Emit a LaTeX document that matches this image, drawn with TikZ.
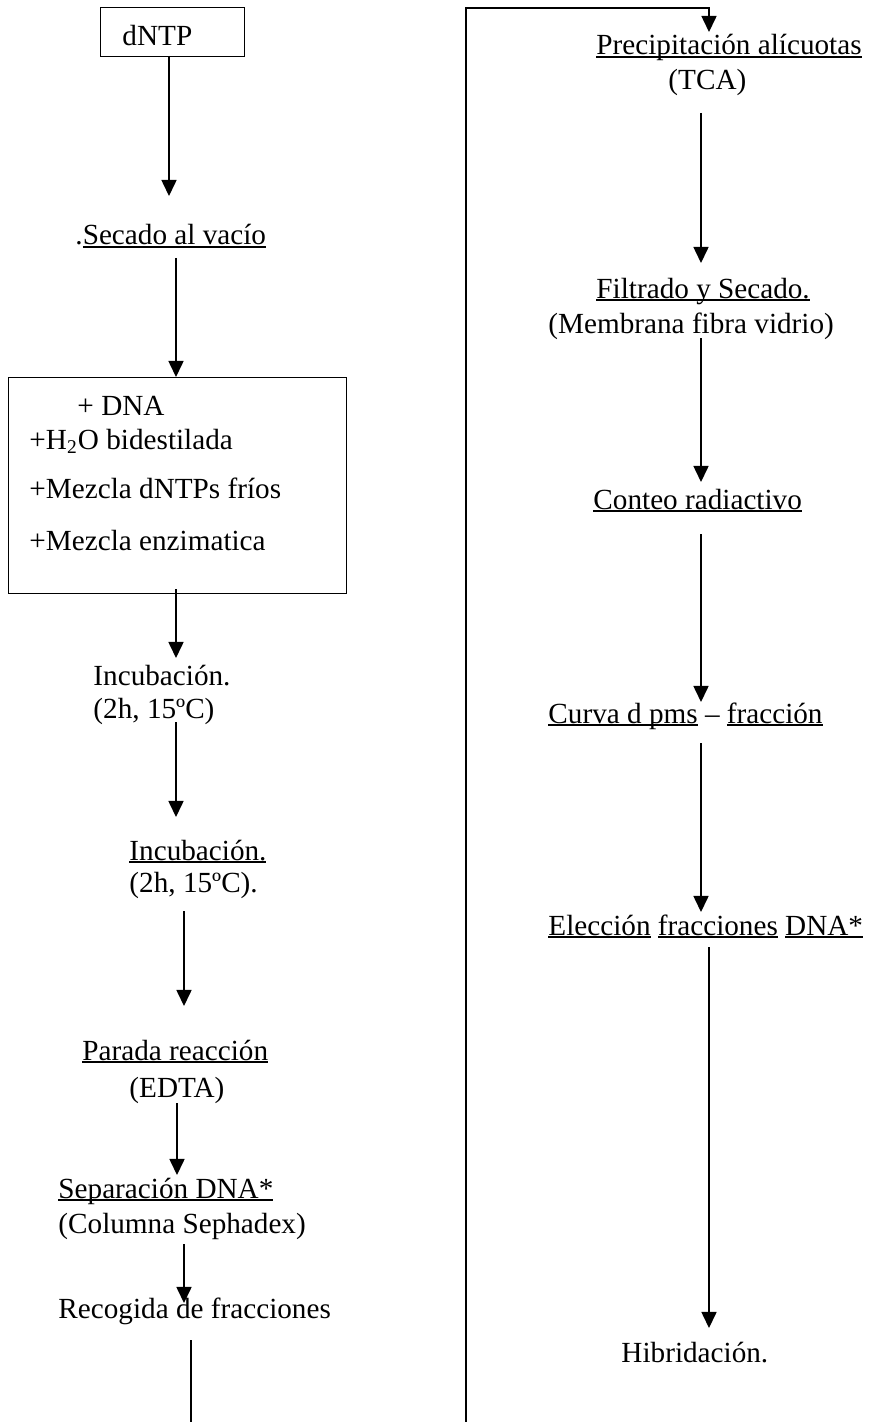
\documentclass[tikz,border=0pt]{standalone}
\usepackage{fontspec}
\setmainfont{Liberation Serif}
\usetikzlibrary{arrows.meta}
\newdimen\px \px=0.411pt
\newcommand{\ulw}[1]{\setbox0=\hbox{#1}\rlap{\rule[-1.1pt]{\wd0}{0.55pt}}\box0\relax}
\begin{document}
\begin{tikzpicture}[x=0.411pt,y=-0.411pt,
  txt/.style={inner sep=0pt, anchor=base west, font=\fontsize{12pt}{14pt}\selectfont},
  boxn/.style={draw, line width=0.6pt, inner sep=0pt, anchor=north west},
  conn/.style={line width=0.6pt},
  arr/.style={line width=0.6pt, -{Triangle[length=6.6pt,width=6.2pt]}}]
\useasboundingbox (0,0) rectangle (868,1422);
% ---------- left column ----------
\node[boxn, minimum width=144\px, minimum height=49\px] (dntp) at (100,7) {};
\node[txt] (dntpt) at (122,46) {dNTP};
\node[txt] (secado) at (75,245) {.\ulw{Secado al vacío}};
\node[boxn, minimum width=338\px, minimum height=216\px] (mix) at (8,377) {};
\node[txt] (m1) at (77,415) {+ DNA};
\node[txt] (m2) at (29,449) {+H\textsubscript{2}O bidestilada};
\node[txt] (m3) at (29,498) {+Mezcla dNTPs fríos};
\node[txt] (m4) at (29,550) {+Mezcla enzimatica};
\node[txt] (inc1) at (93,685) {Incubación.};
\node[txt] (inc1b) at (93,718) {(2h, 15ºC)};
\node[txt] (inc2) at (129,860) {\ulw{Incubación.}};
\node[txt] (inc2b) at (129,892) {(2h, 15ºC).};
\node[txt] (par) at (82,1060) {\ulw{Parada reacción}};
\node[txt] (parb) at (129,1097) {(EDTA)};
\node[txt] (sep) at (58,1198) {\ulw{Separación DNA*}};
\node[txt] (sepb) at (58,1233) {(Columna Sephadex)};
\node[txt] (rec) at (58,1318) {Recogida de fracciones};
% ---------- right column ----------
\node[txt] (prec) at (596,55) {\ulw{Precipitación alícuotas}};
\node[txt] (precb) at (668,90) {(TCA)};
\node[txt] (fil) at (596,298) {\ulw{Filtrado y Secado.}};
\node[txt] (filb) at (548,333) {(Membrana fibra vidrio)};
\node[txt] (con) at (593,509) {\ulw{Conteo radiactivo}};
\node[txt] (cur) at (548,723) {\ulw{Curva d pms} -- \ulw{fracción}};
\node[txt] (ele) at (548,935) {\ulw{Elección} \ulw{fracciones} \ulw{DNA*}};
\node[txt] (hib) at (621,1362) {Hibridación.};
% ---------- connector end points ----------
\coordinate (a1s) at (169,56);  \coordinate (a1e) at (169,196);
\coordinate (a2s) at (176,258);
\coordinate (a3x) at (176,0);   \coordinate (a3e) at (176,658);
\coordinate (a4s) at (176,722); \coordinate (a4e) at (176,817);
\coordinate (a5s) at (184,911); \coordinate (a5e) at (184,1006);
\coordinate (a6s) at (177,1103); \coordinate (a6e) at (177,1175);
\coordinate (a7s) at (184,1244); \coordinate (a7e) at (184,1303);
\coordinate (l8s) at (191,1340); \coordinate (l8e) at (191,1422);
\coordinate (lpb) at (466,1422); \coordinate (lpt) at (709,8);
\coordinate (lpe) at (709,32);
\coordinate (r1s) at (701,113); \coordinate (r1e) at (701,263);
\coordinate (r2s) at (701,338); \coordinate (r2e) at (701,482);
\coordinate (r3s) at (701,534); \coordinate (r3e) at (701,702);
\coordinate (r4s) at (701,743); \coordinate (r4e) at (701,912);
\coordinate (r5s) at (709,947); \coordinate (r5e) at (709,1328);
% ---------- connectors ----------
\draw[arr] (a1s) -- (a1e);
\draw[arr] (a2s) -- (a2s |- mix.north);
\draw[arr] (a3x |- mix.south) ++(0,-5) -- (a3e);
\draw[arr] (a4s) -- (a4e);
\draw[arr] (a5s) -- (a5e);
\draw[arr] (a6s) -- (a6e);
\draw[arr] (a7s) -- (a7e);
\draw[conn] (l8s) -- (l8e);
\draw[arr] (lpb) |- (lpt) -- (lpe);
\draw[arr] (r1s) -- (r1e);
\draw[arr] (r2s) -- (r2e);
\draw[arr] (r3s) -- (r3e);
\draw[arr] (r4s) -- (r4e);
\draw[arr] (r5s) -- (r5e);
\end{tikzpicture}
\end{document}
